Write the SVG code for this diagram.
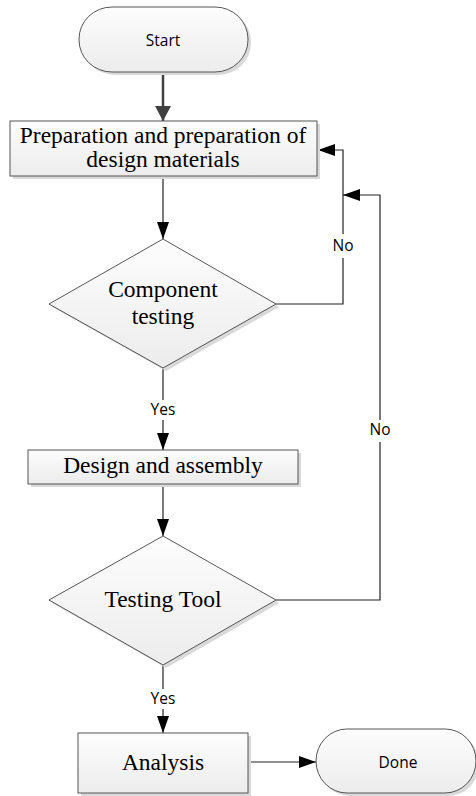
<svg xmlns="http://www.w3.org/2000/svg" width="476" height="796" viewBox="0 0 476 796">
<defs>
<linearGradient id="fillg" x1="0" y1="0" x2="0" y2="1">
<stop offset="0" stop-color="#fdfdfd"/>
<stop offset="1" stop-color="#ececec"/>
</linearGradient>
<marker id="ah" markerUnits="userSpaceOnUse" markerWidth="17" markerHeight="12" refX="17" refY="6" orient="auto">
<path d="M0,0 L17,6 L0,12 z" fill="#000"/>
</marker>
<marker id="ah2" markerUnits="userSpaceOnUse" markerWidth="15" markerHeight="16" refX="15" refY="8" orient="auto">
<path d="M0,0 L15,8 L0,16 z" fill="#404040"/>
</marker>
</defs>
<style>
.shape{fill:url(#fillg);stroke:#555;stroke-width:1}
.shadow{fill:#d9d9d9;stroke:none}
.serif{font-family:"Liberation Serif","Times New Roman",serif;font-size:23.5px;fill:#000;text-anchor:middle}
.sans{font-family:"Open Sans","Liberation Sans",sans-serif;font-size:15.5px;fill:#000;text-anchor:middle}
.conn{fill:none;stroke:#222;stroke-width:1.2}
.lblbg{fill:#fff;stroke:none}
</style>

<g id="connectors">
<path class="conn" d="M163,72 L163,121" stroke="#404040" style="stroke:#404040;stroke-width:2.5" marker-end="url(#ah2)"/>
<path class="conn" d="M163,176 L163,239" marker-end="url(#ah)"/>
<path class="conn" d="M276,304 L343,304 L343,150 L318,150" marker-end="url(#ah)"/>
<path class="conn" d="M163,368 L163,450" marker-end="url(#ah)"/>
<path class="conn" d="M163,484 L163,536" marker-end="url(#ah)"/>
<path class="conn" d="M276,600 L380,600 L380,195 L343,195" marker-end="url(#ah)"/>
<path class="conn" d="M163,665 L163,733" marker-end="url(#ah)"/>
<path class="conn" d="M248,762 L316,762" marker-end="url(#ah)"/>
<rect class="lblbg" x="330" y="234" width="26" height="24"/>
<text class="sans" x="343" y="251">No</text>
<rect class="lblbg" x="367" y="420" width="26" height="22"/>
<text class="sans" x="380" y="435">No</text>
<rect class="lblbg" x="147" y="400" width="32" height="20"/>
<text class="sans" x="163" y="415">Yes</text>
<rect class="lblbg" x="147" y="689" width="32" height="20"/>
<text class="sans" x="163" y="704">Yes</text>
</g>

<g id="start">
<rect class="shadow" x="82" y="10" width="169" height="65" rx="33" ry="32"/>
<rect class="shape" x="79" y="7" width="169" height="65" rx="33" ry="32"/>
<text class="sans" x="163" y="46">Start</text>
</g>

<g id="prep">
<rect class="shadow" x="13" y="124" width="307" height="55"/>
<rect class="shape" x="10" y="121" width="307" height="55"/>
<text class="serif" x="163" y="143">Preparation and preparation of</text>
<text class="serif" x="163" y="167">design materials</text>
</g>

<g id="component-testing">
<polygon class="shadow" points="166,242 279,307 166,371 52,307"/>
<polygon class="shape" points="163,239 276,304 163,368 49,304"/>
<text class="serif" x="163" y="297">Component</text>
<text class="serif" x="163" y="324">testing</text>
</g>

<g id="design">
<rect class="shadow" x="31" y="453" width="270" height="34"/>
<rect class="shape" x="28" y="450" width="270" height="34"/>
<text class="serif" x="163" y="473">Design and assembly</text>
</g>

<g id="testing-tool">
<polygon class="shadow" points="166,539 279,603 166,668 52,603"/>
<polygon class="shape" points="163,536 276,600 163,665 49,600"/>
<text class="serif" x="163" y="607">Testing Tool</text>
</g>

<g id="analysis">
<rect class="shadow" x="81" y="736" width="170" height="60"/>
<rect class="shape" x="78" y="733" width="170" height="60"/>
<text class="serif" x="163" y="770">Analysis</text>
</g>

<g id="done">
<rect class="shadow" x="319" y="732" width="160" height="64" rx="31" ry="32"/>
<rect class="shape" x="316" y="729" width="160" height="64" rx="31" ry="32"/>
<text class="sans" x="398" y="768">Done</text>
</g>
</svg>
